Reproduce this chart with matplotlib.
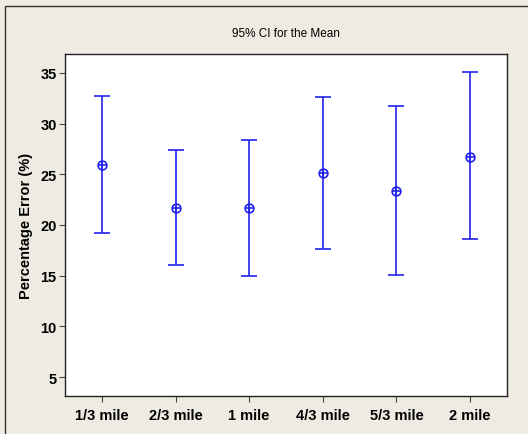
import matplotlib
matplotlib.use("Agg")
import matplotlib.pyplot as plt
from matplotlib.patches import Rectangle

# data
labels = ["1/3 mile", "2/3 mile", "1 mile", "4/3 mile", "5/3 mile", "2 mile"]
means = [25.95, 21.65, 21.65, 25.1, 23.35, 26.7]
upper = [32.75, 27.35, 28.4, 32.6, 31.7, 35.1]
lower = [19.25, 16.1, 14.95, 17.6, 15.1, 18.6]
yticks = [5, 10, 15, 20, 25, 30, 35]

bg = "#EEEBE2"
blue = "#2222EE"
font = ["Liberation Sans", "DejaVu Sans"]

fig = plt.figure(figsize=(5.28, 4.35), dpi=100, facecolor=bg)
# outer frame (only left/top edges visible in the original crop)
fig.patches.append(Rectangle((5 / 528, -0.1), 1.2, 1 - 7 / 435 + 0.1,
                             transform=fig.transFigure, fill=False,
                             edgecolor="#333333", linewidth=1.0))

ax = fig.add_axes([65 / 528, 1 - 397 / 435, (507 - 65) / 528, (397 - 55) / 435])
ax.set_facecolor("white")

x = list(range(1, len(labels) + 1))
yerr = [[m - lo for m, lo in zip(means, lower)], [u - m for m, u in zip(means, upper)]]
ax.errorbar(x, means, yerr=yerr, fmt="none", ecolor=blue, elinewidth=1.2,
            capsize=5.8, capthick=1.2)
ax.plot(x, means, "o", ms=6.3, mfc="none", mec=blue, mew=1.2)
ax.plot(x, means, "+", ms=6.3, mec=blue, mew=1.2)

ax.set_xlim(0.5, 6.5)
ax.set_ylim(3.13, 36.87)
ax.set_xticks(x)
ax.set_xticklabels(labels)
ax.set_yticks(yticks)

for sp in ax.spines.values():
    sp.set_color("#222222")
    sp.set_linewidth(1.0)
ax.tick_params(direction="out", length=4, width=0.8, color="#444444",
               labelsize=10.5, pad=2)
for t in ax.get_xticklabels() + ax.get_yticklabels():
    t.set_fontweight("bold")
    t.set_fontfamily(font)
ax.tick_params(axis="x", pad=5)

ax.set_ylabel("Percentage Error (%)", fontsize=10.5, fontweight="bold",
              family=font)
ax.yaxis.set_label_coords(-0.072, 0.5)
fig.text(0.5 * (65 + 507) / 528, 1 - 34 / 435, "95% CI for the Mean",
         ha="center", va="center", fontsize=8.5, family=font)

fig.savefig("out.png", dpi=100, facecolor=bg)
